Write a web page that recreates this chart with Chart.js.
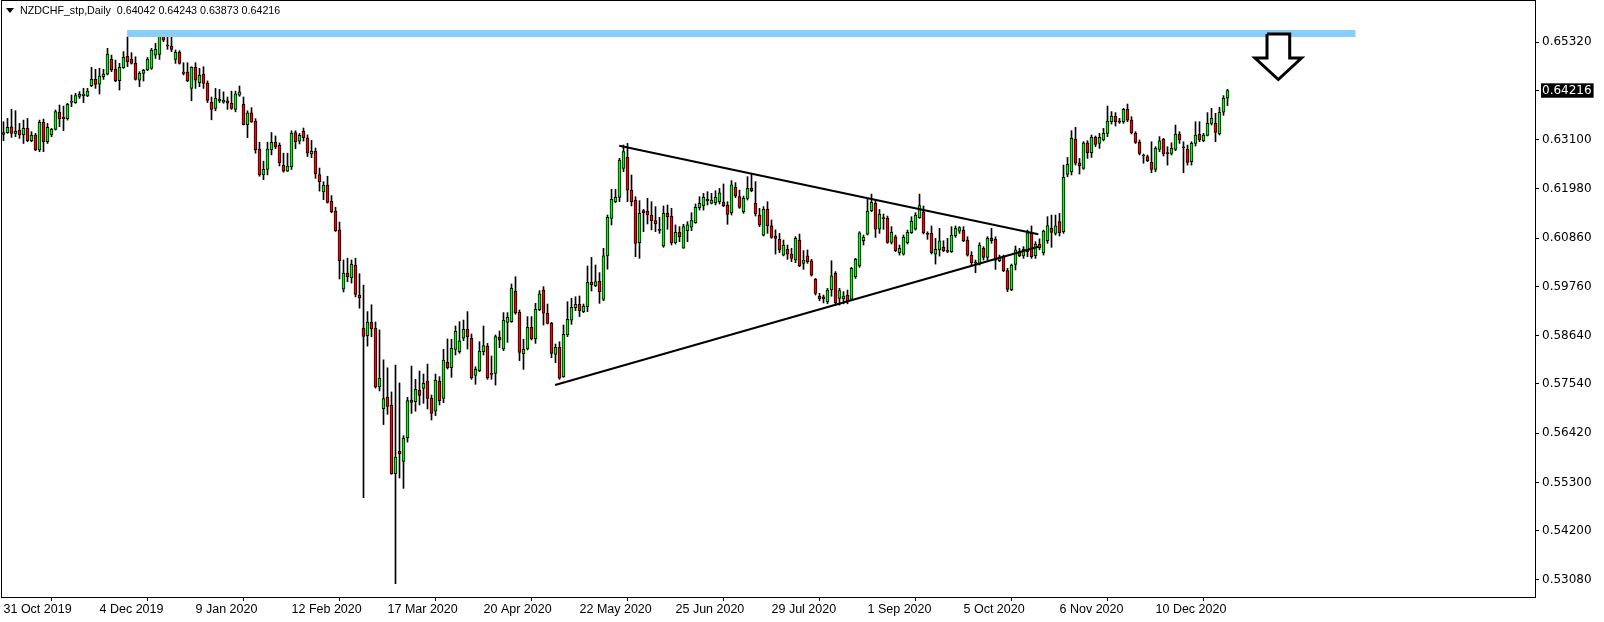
<!DOCTYPE html>
<html><head><meta charset="utf-8">
<script src="https://cdn.jsdelivr.net/npm/chart.js@4.4.1/dist/chart.umd.min.js"></script>
<style>html,body{margin:0;padding:0;background:#fff;overflow:hidden}#wrap{width:1604px;height:622px}</style>
</head><body><div id="wrap"><canvas id="c" width="1604" height="622"></canvas></div>
<script>
const symbolTitle = 'NZDCHF_stp,Daily';
const titleValues = ['0.64042', '0.64243', '0.63873', '0.64216'];
const dateTickLabels = ['31 Oct 2019','4 Dec 2019','9 Jan 2020','12 Feb 2020','17 Mar 2020','20 Apr 2020','22 May 2020','25 Jun 2020','29 Jul 2020','1 Sep 2020','5 Oct 2020','6 Nov 2020','10 Dec 2020'];
const barsPerDateLabel = 24;
const priceTicks = [0.6532,0.6310,0.6198,0.6086,0.5976,0.5864,0.5754,0.5642,0.5530,0.5420,0.5308];
const lastPrice = 0.64216;

const opens = [
0.63219,0.63257,0.63393,0.63242,0.63317,0.63204,0.63355,0.63076,0.63204,0.62862,
0.63491,0.63050,0.63204,0.63332,0.63720,0.63614,0.63577,0.63946,0.63939,0.64084,
0.64099,0.64091,0.64325,0.64469,0.64363,0.64529,0.64589,0.64924,0.64702,0.64438,
0.64736,0.64992,0.64932,0.64834,0.64453,0.64607,0.64683,0.64720,0.65022,0.65037,
0.65455,0.65251,0.65229,0.64924,0.65085,0.64637,0.64637,0.64265,0.64743,0.64393,
0.64592,0.64381,0.63950,0.63810,0.63981,0.63950,0.63981,0.63927,0.63787,0.64108,
0.63903,0.63441,0.63709,0.63519,0.62884,0.62297,0.62421,0.62869,0.63040,0.62970,
0.62515,0.62382,0.62476,0.63261,0.63066,0.63285,0.63129,0.62775,0.62830,0.62305,
0.61912,0.62063,0.61694,0.61473,0.61045,0.59695,0.60064,0.59952,0.60244,0.59563,
0.58809,0.58638,0.58950,0.58809,0.57475,0.56975,0.57242,0.57055,0.55500,0.56010,
0.55776,0.56317,0.57175,0.57137,0.57401,0.57439,0.57608,0.57213,0.56920,0.57608,
0.57213,0.58033,0.57910,0.58328,0.58275,0.58579,0.58783,0.58579,0.57736,0.57842,
0.58275,0.58403,0.57782,0.57782,0.58602,0.58335,0.58942,0.58957,0.59655,0.59171,
0.58222,0.58335,0.58829,0.58564,0.59224,0.59678,0.59148,0.58919,0.58214,0.58373,
0.57706,0.58655,0.58994,0.59276,0.59352,0.59186,0.59299,0.59852,0.59776,0.59882,
0.59465,0.60453,0.61308,0.61687,0.61786,0.62445,0.62697,0.61951,0.61725,0.60755,
0.61482,0.61474,0.61384,0.61256,0.61052,0.60679,0.61422,0.61361,0.60755,0.60989,
0.60627,0.61027,0.61105,0.61210,0.61552,0.61597,0.61748,0.61650,0.61665,0.61687,
0.61672,0.61612,0.61437,0.62012,0.61801,0.61459,0.61763,0.61989,0.61650,0.61384,
0.60928,0.61512,0.61135,0.60906,0.60830,0.60473,0.60604,0.60495,0.60360,0.60815,
0.60284,0.60453,0.60344,0.59919,0.59541,0.59524,0.59414,0.59677,0.60057,0.59484,
0.59472,0.59564,0.59464,0.59979,0.60223,0.60799,0.60950,0.61481,0.61649,0.61059,
0.61315,0.61308,0.60762,0.60890,0.60528,0.60495,0.60754,0.60980,0.61059,0.61323,
0.61459,0.60965,0.60965,0.60495,0.60588,0.60649,0.60573,0.60550,0.60913,0.61018,
0.61041,0.60815,0.60472,0.60306,0.60268,0.60626,0.60419,0.60852,0.60830,0.60344,
0.60434,0.60118,0.59677,0.60261,0.60551,0.60453,0.60551,0.60966,0.60460,0.60724,
0.60525,0.60800,0.61082,0.60966,0.61233,0.61003,0.62309,0.62369,0.63114,0.62573,
0.62444,0.63028,0.62802,0.63152,0.63013,0.63091,0.63242,0.63506,0.63637,0.63514,
0.63506,0.63788,0.63544,0.63242,0.63036,0.62741,0.62711,0.62583,0.62422,0.62877,
0.63107,0.62794,0.62787,0.62877,0.63227,0.62930,0.62877,0.62598,0.63013,0.63220,
0.63076,0.63197,0.63469,0.63469,0.63227,0.63721,0.64042];

const highs = [
0.63506,0.63581,0.63788,0.63758,0.63468,0.63543,0.63581,0.63280,0.63242,0.63543,
0.63566,0.63468,0.63355,0.63773,0.63886,0.63863,0.63924,0.64114,0.64152,0.64190,
0.64265,0.64265,0.64743,0.64698,0.64720,0.64698,0.65176,0.65022,0.64909,0.64834,
0.65101,0.65440,0.65078,0.64984,0.64645,0.64698,0.64969,0.65176,0.65289,0.65515,
0.65553,0.65455,0.65455,0.65138,0.65123,0.64849,0.64849,0.64758,0.64849,0.64720,
0.64758,0.64435,0.64069,0.64264,0.64241,0.64186,0.64069,0.64202,0.64202,0.64319,
0.64069,0.63755,0.63826,0.63576,0.63040,0.62608,0.63040,0.63261,0.63183,0.63025,
0.62791,0.62791,0.63300,0.63300,0.63238,0.63363,0.63207,0.63082,0.62908,0.62453,
0.62141,0.62266,0.61826,0.61561,0.61224,0.60361,0.60400,0.60361,0.60400,0.60049,
0.59789,0.59186,0.59342,0.58950,0.58770,0.58089,0.57907,0.57359,0.57969,0.57564,
0.56364,0.57236,0.57947,0.57646,0.57834,0.57766,0.57993,0.57288,0.57766,0.57706,
0.58328,0.58564,0.58557,0.58859,0.58957,0.58994,0.59186,0.58678,0.57932,0.58501,
0.58859,0.58463,0.58177,0.58655,0.58745,0.59163,0.59163,0.59814,0.59980,0.59224,
0.58557,0.59073,0.59073,0.59374,0.59663,0.59754,0.59359,0.58942,0.58448,0.58501,
0.58881,0.59412,0.59488,0.59525,0.59542,0.59359,0.60224,0.60420,0.60247,0.60073,
0.60627,0.61384,0.61967,0.61967,0.62674,0.62976,0.63013,0.62294,0.61801,0.61710,
0.61512,0.61763,0.61687,0.61574,0.61331,0.61590,0.61612,0.61535,0.61158,0.61120,
0.61173,0.61233,0.61437,0.61635,0.61801,0.61876,0.61914,0.61876,0.61936,0.61989,
0.62090,0.61687,0.62166,0.62120,0.61951,0.61816,0.62256,0.62332,0.62143,0.61535,
0.61574,0.61687,0.61271,0.61045,0.60966,0.60815,0.60702,0.60627,0.60891,0.60951,
0.60574,0.60589,0.60374,0.59941,0.59602,0.59564,0.59715,0.60344,0.60095,0.59715,
0.59640,0.59677,0.60193,0.60397,0.61003,0.60928,0.61762,0.61860,0.61740,0.61511,
0.61406,0.61360,0.61119,0.60928,0.60701,0.60928,0.61041,0.61345,0.61436,0.61860,
0.61589,0.61003,0.61134,0.60852,0.61081,0.60799,0.60852,0.61119,0.61134,0.61119,
0.61119,0.60890,0.60550,0.60359,0.60754,0.60664,0.60890,0.61081,0.60890,0.60472,
0.60472,0.60170,0.60268,0.60679,0.60626,0.60664,0.61041,0.61135,0.60777,0.60842,
0.61041,0.61346,0.61383,0.61383,0.61421,0.62520,0.62693,0.63303,0.63378,0.62671,
0.63051,0.63076,0.63205,0.63182,0.63242,0.63355,0.63864,0.63736,0.63713,0.63585,
0.63811,0.63909,0.63622,0.63280,0.63091,0.62772,0.62749,0.63051,0.62938,0.63167,
0.63129,0.62938,0.63028,0.63431,0.63280,0.63051,0.62975,0.63051,0.63506,0.63506,
0.63242,0.63713,0.63811,0.63698,0.63834,0.64100,0.64243];

const lows = [
0.63076,0.63242,0.63151,0.63166,0.63129,0.63012,0.63050,0.63050,0.62847,0.62824,
0.62824,0.63012,0.63166,0.63317,0.63393,0.63302,0.63543,0.63848,0.63924,0.64037,
0.63939,0.64076,0.64303,0.64265,0.64137,0.64469,0.64570,0.64645,0.64416,0.64227,
0.64720,0.64758,0.64818,0.64453,0.64303,0.64431,0.64668,0.64698,0.64947,0.64924,
0.65327,0.65153,0.65101,0.64834,0.64818,0.64570,0.64416,0.63984,0.64265,0.64303,
0.64265,0.63942,0.63550,0.63755,0.63942,0.63927,0.63787,0.63787,0.63732,0.64085,
0.63433,0.63144,0.63495,0.62791,0.62266,0.62188,0.62297,0.62752,0.62892,0.62499,
0.62359,0.62375,0.62421,0.62892,0.63001,0.63066,0.62713,0.62689,0.62219,0.61927,
0.61733,0.61655,0.61434,0.61010,0.59929,0.59633,0.59866,0.59835,0.59522,0.59264,
0.54952,0.58401,0.58614,0.57444,0.57382,0.56616,0.56850,0.55485,0.52995,0.55399,
0.55165,0.56217,0.56870,0.56920,0.57062,0.57100,0.56970,0.56720,0.56820,0.57062,
0.57115,0.57880,0.57691,0.58199,0.58237,0.58524,0.58335,0.57646,0.57533,0.57819,
0.58199,0.57646,0.57646,0.57515,0.58365,0.58298,0.58486,0.58942,0.59126,0.58071,
0.57872,0.58313,0.58542,0.58463,0.59209,0.58881,0.58904,0.58139,0.58023,0.57646,
0.57691,0.58617,0.58896,0.59209,0.59073,0.59163,0.59186,0.59655,0.59754,0.59374,
0.59435,0.60151,0.61158,0.61665,0.61687,0.62369,0.61687,0.61590,0.60435,0.60397,
0.61004,0.61180,0.61045,0.61004,0.60966,0.60649,0.61060,0.60702,0.60725,0.60777,
0.60627,0.60777,0.61027,0.61195,0.61497,0.61497,0.61612,0.61635,0.61612,0.61635,
0.61574,0.61173,0.61384,0.61778,0.61535,0.61422,0.61725,0.61914,0.61361,0.61120,
0.60906,0.60966,0.60853,0.60495,0.60526,0.60453,0.60375,0.60322,0.60299,0.60209,
0.60148,0.60284,0.59994,0.59564,0.59434,0.59384,0.59364,0.59536,0.59334,0.59334,
0.59364,0.59364,0.59434,0.59941,0.60193,0.60701,0.60928,0.61459,0.60875,0.60965,
0.61059,0.60739,0.60724,0.60550,0.60472,0.60472,0.60724,0.60965,0.61041,0.61308,
0.60950,0.60830,0.60495,0.60268,0.60449,0.60550,0.60525,0.60532,0.60875,0.60965,
0.60777,0.60449,0.60223,0.60072,0.60246,0.60359,0.60359,0.60739,0.60148,0.60321,
0.60095,0.59640,0.59662,0.60133,0.60435,0.60397,0.60435,0.60397,0.60397,0.60592,
0.60473,0.60739,0.60649,0.60928,0.60905,0.60966,0.62256,0.62294,0.62520,0.62316,
0.62422,0.62671,0.62693,0.62938,0.62900,0.63069,0.63167,0.63453,0.63408,0.63469,
0.63469,0.63506,0.63227,0.63013,0.62749,0.62561,0.62598,0.62346,0.62369,0.62824,
0.62726,0.62520,0.62749,0.62847,0.63013,0.62346,0.62520,0.62520,0.62953,0.63051,
0.63051,0.63182,0.63431,0.63051,0.63205,0.63650,0.63873];

const closes = [
0.63257,0.63377,0.63242,0.63295,0.63204,0.63355,0.63076,0.63204,0.62862,0.63491,
0.63050,0.63377,0.63332,0.63735,0.63577,0.63577,0.63901,0.63961,0.64099,0.64129,
0.64137,0.64205,0.64469,0.64355,0.64544,0.64589,0.65045,0.64683,0.64438,0.64743,
0.64969,0.64871,0.64834,0.64469,0.64607,0.64675,0.64932,0.65138,0.65153,0.65455,
0.65364,0.65229,0.65153,0.65085,0.64834,0.64607,0.64438,0.64743,0.64453,0.64570,
0.64378,0.63989,0.63787,0.64036,0.64020,0.63997,0.63927,0.63810,0.64139,0.64186,
0.63441,0.63709,0.63495,0.62869,0.62297,0.62421,0.62884,0.63040,0.62931,0.62572,
0.62382,0.62499,0.63246,0.63048,0.63199,0.63144,0.62791,0.62830,0.62320,0.62141,
0.62063,0.61670,0.61458,0.61026,0.60345,0.60064,0.59983,0.60259,0.59576,0.59498,
0.58622,0.58950,0.58794,0.57475,0.57673,0.57210,0.57031,0.55500,0.55877,0.55955,
0.56309,0.57160,0.57122,0.57416,0.57281,0.57555,0.57213,0.56870,0.57631,0.57160,
0.58086,0.57910,0.58350,0.58738,0.58524,0.58783,0.58617,0.57684,0.57872,0.58290,
0.58411,0.57684,0.57759,0.58617,0.58542,0.58987,0.59058,0.59716,0.59156,0.58260,
0.58328,0.58829,0.58564,0.59239,0.59588,0.59148,0.58919,0.58237,0.58373,0.57669,
0.58670,0.59009,0.59284,0.59352,0.59209,0.59314,0.59852,0.59791,0.59867,0.59640,
0.60453,0.61331,0.61740,0.61786,0.62636,0.62825,0.61951,0.61687,0.60740,0.61422,
0.61437,0.61384,0.61256,0.61180,0.61034,0.61422,0.61346,0.60755,0.60989,0.60891,
0.61120,0.61158,0.61271,0.61559,0.61650,0.61786,0.61703,0.61725,0.61786,0.61891,
0.61597,0.61399,0.62068,0.61816,0.61559,0.61763,0.61989,0.61936,0.61407,0.61158,
0.61512,0.61135,0.60876,0.60853,0.60589,0.60702,0.60495,0.60397,0.60853,0.60231,
0.60360,0.60322,0.60017,0.59602,0.59479,0.59472,0.59677,0.60001,0.59384,0.59662,
0.59541,0.59434,0.60170,0.60374,0.60980,0.60875,0.61474,0.61672,0.61059,0.61406,
0.61301,0.60762,0.60988,0.60573,0.60626,0.60875,0.60988,0.61247,0.61383,0.61596,
0.60980,0.60943,0.60528,0.60603,0.60799,0.60573,0.60558,0.60928,0.61081,0.61097,
0.60799,0.60472,0.60299,0.60291,0.60701,0.60419,0.60852,0.60799,0.60359,0.60434,
0.60118,0.59692,0.60246,0.60589,0.60460,0.60604,0.60981,0.60435,0.60724,0.60642,
0.61019,0.61142,0.60988,0.61135,0.60981,0.62241,0.62535,0.63129,0.62561,0.62505,
0.63028,0.62802,0.63152,0.62990,0.63152,0.63242,0.63521,0.63637,0.63506,0.63499,
0.63788,0.63544,0.63257,0.63036,0.62787,0.62726,0.62621,0.62422,0.62900,0.63069,
0.62772,0.62779,0.62900,0.63227,0.63091,0.62915,0.62583,0.63013,0.63205,0.63091,
0.63205,0.63469,0.63582,0.63265,0.63721,0.64042,0.64216];

// drawn objects (bar index, price)
const resistanceLevel = 0.65516;
const resistanceSpan = [30.9, 338];
const upperTrend = [{x:153.95, y:0.62961}, {x:258.7, y:0.60945}];
const lowerTrend = [{x:137.9, y:0.57517}, {x:258.7, y:0.60663}];
const arrowShape = [
  {x:315.875,y:0.65503},{x:321.55,y:0.65503},{x:321.55,y:0.64956},{x:324.5,y:0.64956},
  {x:318.7,y:0.64467},{x:312.875,y:0.64956},{x:315.875,y:0.64956},{x:315.875,y:0.65503}];

const idx = opens.map((_, i) => i);
const bodies = idx.map(i => ({x: i, y: [opens[i], closes[i]]}));
const wicks = idx.map(i => ({x: i, y: [lows[i], highs[i]]}));
const bodyColors = idx.map(i => closes[i] >= opens[i] ? '#00ff00' : '#ff0000');

const framePlugin = {
  id: 'frame',
  afterDraw(chart) {
    const {ctx, chartArea: a} = chart;
    ctx.save();
    ctx.strokeStyle = '#000'; ctx.lineWidth = 1;
    ctx.strokeRect(a.left - 0.5, a.top - 0.5, a.right - a.left + 1, a.bottom - a.top + 1);
    ctx.restore();
  }
};
const titlePlugin = {
  id: 'mtTitle',
  afterDatasetsDraw(chart) {
    const ctx = chart.ctx;
    ctx.save();
    ctx.fillStyle = '#000';
    ctx.beginPath(); ctx.moveTo(6, 8); ctx.lineTo(14, 8); ctx.lineTo(10, 13); ctx.closePath(); ctx.fill();
    ctx.font = '10.7px "Liberation Sans", Arial, sans-serif';
    ctx.textBaseline = 'middle';
    const text = symbolTitle + '  ' + titleValues.join(' ');
    ctx.fillText(text, 20, 11);
    ctx.restore();
  }
};

new Chart(document.getElementById('c'), {
  data: {
    datasets: [
      {type:'line', data: arrowShape, borderColor:'#000', borderWidth:3, backgroundColor:'#fff', fill:'shape', pointRadius:0, tension:0, borderJoinStyle:'miter', order:0},
      {type:'line', data: upperTrend, borderColor:'#000', borderWidth:2, pointRadius:0, fill:false, order:1},
      {type:'line', data: lowerTrend, borderColor:'#000', borderWidth:2, pointRadius:0, fill:false, order:1},
      {type:'line', data: resistanceSpan.map(x => ({x, y: resistanceLevel})), borderColor:'#87cefa', borderWidth:7, pointRadius:0, fill:false, order:2},
      {type:'bar', data: bodies, backgroundColor: bodyColors, borderColor:'#000', borderWidth:1, borderSkipped:false, barThickness:3, minBarLength:1, grouped:false, order:3},
      {type:'bar', data: wicks, backgroundColor:'#000', borderWidth:0, barThickness:1, grouped:false, order:4}
    ]
  },
  options: {
    responsive: false, animation: false, devicePixelRatio: 1,
    layout: {padding: {left: 2, top: 1, right: 0, bottom: 0}},
    plugins: {legend: {display: false}, tooltip: {enabled: false}, title: {display: false}},
    scales: {
      x: {
        type: 'linear', min: -0.375, max: 382.875, offset: false,
        afterBuildTicks: s => { s.ticks = dateTickLabels.map((_, k) => ({value: k * barsPerDateLabel})); },
        afterFit: s => { s.height = 25; s.paddingLeft = 0; s.paddingRight = 0; },
        ticks: {autoSkip: false, maxRotation: 0, minRotation: 0, align: 'start', padding: 1, color: '#000',
          font: {family: '"Liberation Sans", Arial, sans-serif', size: 12.5},
          callback: v => dateTickLabels[Math.round(v / barsPerDateLabel)] || ''},
        grid: {display: true, drawOnChartArea: false, drawTicks: true, tickLength: 4, color: '#000', lineWidth: 1},
        border: {display: false}
      },
      y: {
        type: 'linear', position: 'right', min: 0.52693, max: 0.66253,
        afterBuildTicks: s => { s.ticks = [...priceTicks, lastPrice].sort((a, b) => b - a).map(v => ({value: v})); },
        afterFit: s => { s.width = 69; s.paddingTop = 0; s.paddingBottom = 0; },
        ticks: {padding: 3,
          color: c => (c.tick && c.tick.value === lastPrice) ? '#fff' : '#000',
          showLabelBackdrop: c => !!(c.tick && c.tick.value === lastPrice),
          backdropColor: '#000', backdropPadding: {top: 0, bottom: 0, left: 1, right: 2},
          font: {family: '"DejaVu Sans", Verdana, sans-serif', size: 12},
          callback: v => v.toFixed(5)},
        grid: {display: true, drawOnChartArea: false, drawTicks: true, tickLength: 4, color: '#000', lineWidth: 1},
        border: {display: false}
      }
    }
  },
  plugins: [framePlugin, titlePlugin]
});
</script>
</body></html>
